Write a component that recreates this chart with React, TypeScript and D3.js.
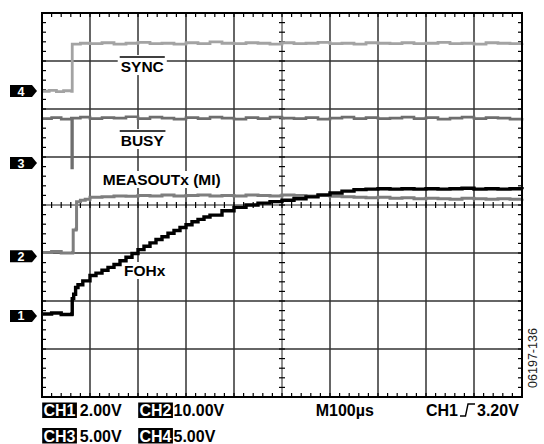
import React, { useEffect, useRef } from "react";
import * as d3 from "d3";

// time in divisions (0..10), voltage in divisions (-4..4)
const ch4Sync: [number, number][] = [
  [0, 2.37], [0.15, 2.39], [0.3, 2.36], [0.45, 2.38], [0.62, 2.37], [0.63, 3.35], [0.8, 3.37], [1.0, 3.36],
  [1.25, 3.38], [1.5, 3.35], [1.75, 3.37], [2.0, 3.39], [2.25, 3.36], [2.5, 3.37], [2.75, 3.35], [3.0, 3.38],
  [3.25, 3.36], [3.5, 3.4], [3.75, 3.37], [4.0, 3.36], [4.25, 3.38], [4.5, 3.37], [4.75, 3.35], [5.0, 3.38],
  [5.25, 3.36], [5.5, 3.37], [5.75, 3.39], [6.0, 3.36], [6.25, 3.37], [6.5, 3.35], [6.75, 3.38], [7.0, 3.37],
  [7.25, 3.36], [7.5, 3.38], [7.75, 3.36], [8.0, 3.37], [8.25, 3.39], [8.5, 3.36], [8.75, 3.37], [9.0, 3.35],
  [9.25, 3.38], [9.5, 3.37], [9.75, 3.36], [10, 3.37],
];

const ch3Busy: [number, number][] = [
  [0, 1.8], [0.2, 1.82], [0.4, 1.79], [0.61, 1.81], [0.62, 0.77], [0.635, 1.81], [0.8, 1.83], [1.0, 1.8],
  [1.25, 1.82], [1.5, 1.81], [1.75, 1.84], [2.0, 1.8], [2.25, 1.83], [2.5, 1.81], [2.75, 1.79], [3.0, 1.82],
  [3.25, 1.8], [3.5, 1.83], [3.75, 1.81], [4.0, 1.79], [4.25, 1.82], [4.5, 1.8], [4.75, 1.83], [5.0, 1.81],
  [5.25, 1.8], [5.5, 1.82], [5.75, 1.79], [6.0, 1.81], [6.25, 1.83], [6.5, 1.8], [6.75, 1.82], [7.0, 1.8],
  [7.25, 1.81], [7.5, 1.83], [7.75, 1.8], [8.0, 1.82], [8.25, 1.79], [8.5, 1.81], [8.75, 1.83], [9.0, 1.8],
  [9.25, 1.82], [9.5, 1.81], [9.75, 1.79], [10, 1.81],
];

const ch2Measout: [number, number][] = [
  [0, -0.99], [0.2, -0.97], [0.4, -1.0], [0.64, -0.99], [0.65, -0.52], [0.71, -0.5], [0.72, 0.07], [0.8, 0.1],
  [0.9, 0.12], [1.0, 0.16], [1.25, 0.17], [1.5, 0.19], [1.75, 0.18], [2.0, 0.2], [2.25, 0.19], [2.5, 0.21],
  [2.75, 0.19], [3.0, 0.2], [3.25, 0.21], [3.5, 0.19], [3.75, 0.2], [4.0, 0.19], [4.25, 0.21], [4.5, 0.2],
  [4.75, 0.19], [5.0, 0.21], [5.25, 0.2], [5.5, 0.19], [5.75, 0.2], [6.0, 0.18], [6.25, 0.17], [6.5, 0.16],
  [6.75, 0.15], [7.0, 0.16], [7.25, 0.14], [7.5, 0.15], [7.75, 0.13], [8.0, 0.14], [8.25, 0.13], [8.5, 0.12],
  [8.75, 0.14], [9.0, 0.13], [9.25, 0.12], [9.5, 0.13], [9.75, 0.12], [10, 0.13],
];

const ch1Fohx: [number, number][] = [
  [0, -2.27], [0.2, -2.25], [0.4, -2.28], [0.62, -2.27], [0.63, -1.95], [0.66, -1.86], [0.7, -1.72], [0.75, -1.66],
  [0.85, -1.58], [1.0, -1.47], [1.125, -1.42], [1.25, -1.36], [1.375, -1.3], [1.5, -1.24], [1.625, -1.16],
  [1.75, -1.09], [1.875, -1.01], [2.0, -0.93], [2.125, -0.86], [2.25, -0.79], [2.375, -0.72], [2.5, -0.66],
  [2.625, -0.59], [2.75, -0.53], [2.875, -0.47], [3.0, -0.41], [3.125, -0.35], [3.25, -0.3], [3.375, -0.25],
  [3.5, -0.21], [3.75, -0.12], [4.0, -0.05], [4.25, 0.0], [4.5, 0.04], [4.75, 0.07], [5.0, 0.1], [5.25, 0.13],
  [5.5, 0.17], [5.75, 0.21], [6.0, 0.25], [6.25, 0.29], [6.5, 0.32], [6.75, 0.33], [7.0, 0.34], [7.25, 0.33],
  [7.5, 0.34], [7.75, 0.33], [8.0, 0.34], [8.25, 0.33], [8.5, 0.34], [8.75, 0.35], [9.0, 0.33], [9.25, 0.34],
  [9.5, 0.33], [9.75, 0.34], [10, 0.33],
];

// channel ground markers (number, level in divisions)
const markerIds = ["4", "3", "2", "1"];
const markerLevels = [2.375, 0.875, -1.07, -2.31];

// trace label texts and anchors (t, v) in divisions
const traceLabels = ["SYNC", "BUSY", "MEASOUTx (MI)", "FOHx"];
const traceLabelT = [1.64, 1.64, 1.265, 1.708];
const traceLabelV = [2.77, 1.229, 0.417, -1.479];
const traceLabelOver = [true, true, false, false];

// bottom readout
const readoutCh = ["CH1", "CH2", "CH3", "CH4"];
const readoutVal = ["2.00V", "10.00V", "5.00V", "5.00V"];
const timebase = "M100µs";
const trigSource = "CH1";
const trigLevel = "3.20V";
const figId = "06197-136";

const FONT = "'Liberation Sans', Arial, Helvetica, sans-serif";

export default function App() {
  const ref = useRef<SVGSVGElement | null>(null);

  useEffect(() => {
    const svg = d3.select(ref.current);
    svg.selectAll("*").remove();

    const x = d3.scaleLinear().domain([0, 10]).range([42, 522]);
    const y = d3.scaleLinear().domain([-4, 4]).range([397, 13]);

    const gridG = svg.append("g");
    const labelG = svg.append("g");
    const traceG = svg.append("g");
    const frameG = svg.append("g");

    // grid
    d3.range(1, 10).forEach((t) => {
      gridG.append("line").attr("x1", x(t)).attr("x2", x(t)).attr("y1", y(4)).attr("y2", y(-4))
        .attr("stroke", t === 5 ? "#222" : "#333").attr("stroke-width", t === 5 ? 1 : 1.5);
    });
    d3.range(-3, 4).forEach((v) => {
      gridG.append("line").attr("x1", x(0)).attr("x2", x(10)).attr("y1", y(v)).attr("y2", y(v))
        .attr("stroke", v === 0 ? "#222" : "#333").attr("stroke-width", v === 0 ? 1.2 : 1.5);
    });
    // minor ticks
    const tMinor = d3.range(0, 50).map((i) => i * 0.2).filter((t) => t > 0);
    const vMinor = d3.range(0, 40).map((i) => -4 + i * 0.2).filter((v) => v > -4);
    tMinor.forEach((t) => {
      const px = x(t);
      gridG.append("line").attr("x1", px).attr("x2", px).attr("y1", y(4)).attr("y2", y(4) + 4).attr("stroke", "#000").attr("stroke-width", 1.2);
      gridG.append("line").attr("x1", px).attr("x2", px).attr("y1", y(-4)).attr("y2", y(-4) - 4).attr("stroke", "#000").attr("stroke-width", 1.2);
      gridG.append("line").attr("x1", px).attr("x2", px).attr("y1", y(0) - 3).attr("y2", y(0) + 3).attr("stroke", "#000").attr("stroke-width", 1.2);
    });
    vMinor.forEach((v) => {
      const py = y(v);
      gridG.append("line").attr("x1", x(0)).attr("x2", x(0) + 4).attr("y1", py).attr("y2", py).attr("stroke", "#000").attr("stroke-width", 1.2);
      gridG.append("line").attr("x1", x(10)).attr("x2", x(10) - 4).attr("y1", py).attr("y2", py).attr("stroke", "#000").attr("stroke-width", 1.2);
      gridG.append("line").attr("x1", x(5) - 3).attr("x2", x(5) + 3).attr("y1", py).attr("y2", py).attr("stroke", "#000").attr("stroke-width", 1.2);
    });

    // trace labels with white background
    traceLabels.forEach((txt, i) => {
      const g = labelG.append("g");
      const rect = g.append("rect").attr("fill", "#fff");
      const tx = g.append("text").attr("x", x(traceLabelT[i])).attr("y", y(traceLabelV[i]))
        .attr("font-family", FONT).attr("font-weight", "bold").attr("font-size", 15.5).attr("fill", "#000").text(txt);
      const bb = (tx.node() as SVGTextElement).getBBox();
      const top = traceLabelOver[i] ? y(traceLabelV[i]) - 17 : bb.y;
      rect.attr("x", bb.x - 3).attr("y", top).attr("width", bb.width + 6).attr("height", y(traceLabelV[i]) + 3 - top);
      if (traceLabelOver[i]) {
        g.append("line").attr("x1", bb.x - 1).attr("x2", bb.x + bb.width + 1)
          .attr("y1", y(traceLabelV[i]) - 15).attr("y2", y(traceLabelV[i]) - 15).attr("stroke", "#000").attr("stroke-width", 1.5);
      }
    });

    // traces (sampled scope look: step rendering)
    const line = d3.line<[number, number]>().x((d) => x(d[0])).y((d) => y(d[1])).curve(d3.curveStepAfter);
    traceG.append("path").attr("d", line(ch4Sync)).attr("fill", "none").attr("stroke", "#a3a3a3").attr("stroke-width", 2.8);
    traceG.append("path").attr("d", line(ch3Busy)).attr("fill", "none").attr("stroke", "#6e6e6e").attr("stroke-width", 2.6);
    traceG.append("path").attr("d", line(ch2Measout)).attr("fill", "none").attr("stroke", "#7e7e7e").attr("stroke-width", 3);
    traceG.append("path").attr("d", line(ch1Fohx)).attr("fill", "none").attr("stroke", "#000").attr("stroke-width", 3.4);

    // frame
    frameG.append("rect").attr("x", x(0)).attr("y", y(4)).attr("width", x(10) - x(0)).attr("height", y(-4) - y(4))
      .attr("fill", "none").attr("stroke", "#000").attr("stroke-width", 2);

    // markers
    markerIds.forEach((id, i) => {
      const cy = y(markerLevels[i]);
      frameG.append("path").attr("d", `M10,${cy - 6}H32L37,${cy}L32,${cy + 6}H10Z`).attr("fill", "#000");
      frameG.append("text").attr("x", 21).attr("y", cy + 4.5).attr("text-anchor", "middle")
        .attr("font-family", FONT).attr("font-weight", "bold").attr("font-size", 12.5).attr("fill", "#fff").text(id);
    });

    // bottom readout
    const rows = [416, 441.5];
    const chX = [43.5, 139.5, 43.5, 139.5];
    const valX = [79.8, 173.5, 79.8, 173.5];
    readoutCh.forEach((c, i) => {
      const by = rows[Math.floor(i / 2)];
      const g = frameG.append("g");
      const rect = g.append("rect").attr("fill", "#000");
      const tx = g.append("text").attr("x", chX[i]).attr("y", by).attr("font-family", FONT).attr("font-weight", "bold")
        .attr("font-size", 16).attr("fill", "#fff").text(c);
      const bb = (tx.node() as SVGTextElement).getBBox();
      rect.attr("x", bb.x - 1.3).attr("y", by - 13.5).attr("width", bb.width + 2.6).attr("height", 15.5);
      frameG.append("text").attr("x", valX[i]).attr("y", by).attr("font-family", FONT).attr("font-weight", "bold")
        .attr("font-size", 16).attr("fill", "#000").text(readoutVal[i]);
    });
    frameG.append("text").attr("x", 315.7).attr("y", rows[0]).attr("font-family", FONT).attr("font-weight", "bold")
      .attr("font-size", 16).attr("fill", "#000").text(timebase);
    frameG.append("text").attr("x", 426).attr("y", rows[0]).attr("font-family", FONT).attr("font-weight", "bold")
      .attr("font-size", 16).attr("fill", "#000").text(trigSource);
    frameG.append("path").attr("d", `M460,${rows[0]}H465.5L468,${rows[0] - 12}H475`).attr("fill", "none")
      .attr("stroke", "#000").attr("stroke-width", 1.4);
    frameG.append("text").attr("x", 477).attr("y", rows[0]).attr("font-family", FONT).attr("font-weight", "bold")
      .attr("font-size", 16).attr("fill", "#000").text(trigLevel);

    // figure id
    frameG.append("text").attr("transform", "translate(537,358) rotate(-90)").attr("text-anchor", "middle")
      .attr("font-family", FONT).attr("font-size", 12.5).attr("fill", "#222").text(figId);
  }, []);

  return (
    <div style={{ position: "absolute", left: 0, top: 0 }}>
      <svg ref={ref} width={544} height={444} style={{ display: "block", background: "#fff" }} />
    </div>
  );
}
